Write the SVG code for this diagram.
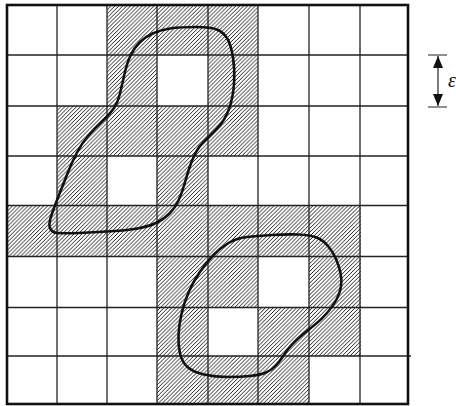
<svg xmlns="http://www.w3.org/2000/svg" width="456" height="406" viewBox="0 0 456 406">
<style>
.grid{stroke:#222;stroke-width:1.3;fill:none}
.border{stroke:#111;stroke-width:2.6;fill:none}
.blob{stroke:#111;stroke-width:2.6;fill:none;stroke-linejoin:round}
.hatch{fill:url(#hatch);stroke:none}
.dim{stroke:#222;stroke-width:1.2;fill:none}
.lbl{font-family:"Liberation Serif",serif;font-style:italic;font-size:20px;fill:#111}
</style>
<defs>
<pattern id="hatch" patternUnits="userSpaceOnUse" width="3.9" height="3.9">
<path d="M-1,1 L1,-1 M0,3.9 L3.9,0 M2.9,4.9 L4.9,2.9" stroke="#111" stroke-width="0.95"/>
</pattern>
<marker id="ah" viewBox="0 0 12 10" refX="12" refY="5" markerWidth="12" markerHeight="10" markerUnits="userSpaceOnUse" orient="auto">
<path d="M0,0 L12,5 L0,10 Z" fill="#111"/>
</marker>
</defs>
<rect width="456" height="406" fill="#fff"/>
<g id="hatched-cells">
<rect class="hatch" x="107" y="5" width="151" height="50"/>
<rect class="hatch" x="107" y="55" width="50" height="51"/>
<rect class="hatch" x="208" y="55" width="50" height="51"/>
<rect class="hatch" x="57" y="106" width="201" height="50"/>
<rect class="hatch" x="57" y="156" width="50" height="50"/>
<rect class="hatch" x="157" y="156" width="51" height="50"/>
<rect class="hatch" x="7" y="205" width="354" height="52"/>
<rect class="hatch" x="157" y="256" width="101" height="52"/>
<rect class="hatch" x="309" y="256" width="52" height="52"/>
<rect class="hatch" x="157" y="307" width="51" height="49"/>
<rect class="hatch" x="258" y="307" width="103" height="49"/>
<rect class="hatch" x="157" y="356" width="152" height="48"/>
</g>
<g id="grid">
<path class="grid" d="M57,5 V404 M107,5 V404 M157,5 V404 M208,5 V404 M258,5 V404 M309,5 V404 M360,5 V404"/>
<path class="grid" d="M7,55 H408 M7,106 H408 M7,156 H408 M7,205.5 H408 M7,256.5 H408 M7,307.5 H408 M8,356 H411"/>
<rect class="border" x="7" y="5" width="401" height="399"/>
</g>
<g id="region-upper">
<path class="blob" d="M170,28.5 Q180,27 196,27 Q212,27 218,30 Q224,33 227.5,39 Q231,45 233,57.5 Q235,70 234,84 Q233,98 229,109 Q225,120 217.5,128 Q210,136 204.5,141 Q199,146 195.5,153 Q192,160 189.5,167.5 Q187,175 184.5,184 Q182,193 178.5,200.5 Q175,208 169.5,213.5 Q164,219 157,222.5 Q150,226 140,228 Q130,230 115,231 Q100,232 78.5,233 Q57,234 53.5,232 Q50,230 49.5,226 Q49,222 52,213.5 Q55,205 59,195 Q63,185 67.5,173.5 Q72,162 77,152.5 Q82,143 88.5,135.5 Q95,128 102.5,121 Q110,114 114,108 Q118,102 120,93.5 Q122,85 124.5,74 Q127,63 130.5,55.5 Q134,48 139.5,42.5 Q145,37 152.5,33.5 Q160,30 170,28.5 Z"/>
</g>
<g id="region-lower">
<path class="blob" d="M228.5,243 Q237,238 247,237 Q257,236 272,235 Q287,234 298.5,234.5 Q310,235 316.5,237.5 Q323,240 328,246 Q333,252 336,259 Q339,266 340.5,273 Q342,280 341,286.5 Q340,293 336.5,299.5 Q333,306 327,313 Q321,320 314.5,325 Q308,330 302,335 Q296,340 291.5,345 Q287,350 283.5,355.5 Q280,361 276,365.5 Q272,370 266,372.5 Q260,375 250,376 Q240,377 227.5,377 Q215,377 204,374.5 Q193,372 187.5,367 Q182,362 180,353.5 Q178,345 178.5,335 Q179,325 181.5,314 Q184,303 188.5,292.5 Q193,282 199.5,272.5 Q206,263 213,255.5 Q220,248 228.5,243 Z"/>
</g>
<g id="dimension">
<path class="dim" d="M428,55 H447 M428,107 H447"/>
<path class="dim" d="M438,81 V56" marker-end="url(#ah)"/>
<path class="dim" d="M438,81 V106" marker-end="url(#ah)"/>
<text class="lbl" x="448" y="87">ε</text>
</g>
</svg>
